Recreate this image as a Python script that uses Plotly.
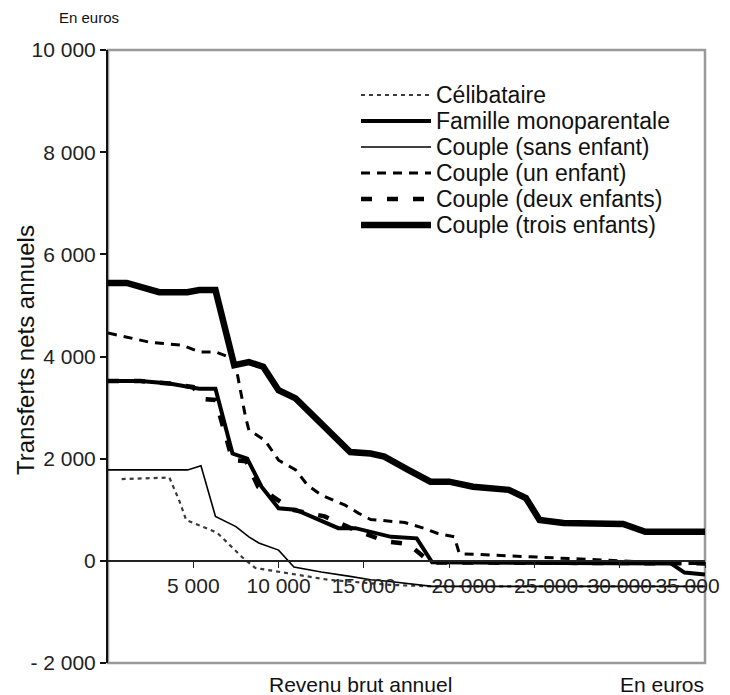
import plotly.graph_objects as go

# ---------------- data (euros) ----------------
celib_x = [800, 3600, 4200, 4580, 6400, 7870, 8640, 9800, 12900, 16500, 19000, 35000]
celib_y = [1600, 1630, 1160, 800, 550, 70, -140, -200, -370, -470, -500, -500]

famille_x = [0, 1900, 3600, 5350, 6300, 7300, 8160, 9000, 10000, 11000, 13500, 14500,
             16600, 18100, 19000, 33000, 33800, 35000]
famille_y = [3520, 3520, 3470, 3370, 3370, 2100, 2000, 1450, 1030, 1000, 640, 640,
             470, 440, -30, -50, -230, -270]

sans_x = [0, 4670, 5450, 6300, 7500, 8260, 8840, 10000, 10900, 12500, 14100, 15400,
          16400, 19000, 35000]
sans_y = [1780, 1780, 1860, 870, 670, 470, 350, 210, -120, -220, -300, -370,
          -400, -500, -500]

un_x = [0, 2440, 4380, 5350, 6300, 7100, 7500, 8060, 8260, 9200, 10000, 11000, 11700,
        12500, 13900, 14700, 15400, 17400, 18500, 19300, 20300, 20600, 24700, 28600,
        33400, 35000]
un_y = [4460, 4280, 4220, 4090, 4090, 3990, 3800, 2820, 2560, 2360, 1970, 1780, 1480,
        1290, 1090, 930, 810, 750, 640, 540, 470, 140, 80, 20, -50, -50]

deux_x = [0, 1900, 3600, 5000, 5500, 6300, 7300, 8100, 8800, 9700, 10800, 11800, 12700,
          14500, 15400, 16300, 17600, 18900, 35000]
deux_y = [3520, 3520, 3470, 3400, 3170, 3150, 1970, 1950, 1450, 1250, 1000, 930, 870,
          600, 500, 380, 330, -30, -50]

trois_x = [0, 1100, 3000, 4650, 5350, 6300, 7400, 8260, 9100, 10000, 11000, 14200, 15400,
           16200, 17600, 18900, 20000, 21400, 23500, 24500, 25300, 26700, 30200, 31500, 35000]
trois_y = [5440, 5440, 5260, 5260, 5300, 5300, 3830, 3890, 3800, 3340, 3180, 2130, 2100,
           2040, 1780, 1550, 1550, 1450, 1390, 1230, 800, 740, 720, 570, 570]

series_names = ["Célibataire", "Famille monoparentale", "Couple (sans enfant)",
                "Couple (un enfant)", "Couple (deux enfants)", "Couple (trois enfants)"]

NB = "\u00a0"
x_tickvals = [5000, 10000, 15000, 20000, 25000, 30000, 35000]
x_ticktext = ["5 000", "10 000", "15 000", NB * 5 + "20 000", NB * 4 + "25 000",
              "30 000", "35 000" + NB * 6]
y_tickvals = [-2000, 0, 2000, 4000, 6000, 8000, 10000]
y_ticktext = ["- 2 000", "0", "2 000", "4 000", "6 000", "8 000", "10 000"]

# ---------------- styles ----------------
styles = [
    dict(color="#3a3a3a", width=2.2, dash="4px,4px"),
    dict(color="#000000", width=4, dash="solid"),
    dict(color="#000000", width=1.6, dash="solid"),
    dict(color="#000000", width=3, dash="9px,7px"),
    dict(color="#000000", width=4.5, dash="11px,15px"),
    dict(color="#000000", width=6.5, dash="solid"),
]

FONT = "Liberation Sans, Arial, sans-serif"
OFF = 8  # page body margin
W, H = 730 - OFF, 695 - OFF
ML, MT = 108 - OFF, 50 - OFF
MR = W - (705 - OFF)
MB = H - (663 - OFF)
PW, PH = W - ML - MR, H - MT - MB


def px_x(px):
    return (px - OFF - ML) / PW


def px_y(py):
    return (H - MB - (py - OFF)) / PH


fig = go.Figure()
all_x = [celib_x, famille_x, sans_x, un_x, deux_x, trois_x]
all_y = [celib_y, famille_y, sans_y, un_y, deux_y, trois_y]
for name, xs, ys, st in zip(series_names, all_x, all_y, styles):
    fig.add_trace(go.Scatter(x=xs, y=ys, mode="lines", name=name, line=st,
                             showlegend=False, hoverinfo="skip"))

# frame (gray)
shapes = [dict(type="rect", xref="paper", yref="paper", x0=0, x1=1, y0=0, y1=1,
               line=dict(color="#999999", width=2.5), layer="below")]
annotations = []

# manual legend
leg_rows = [95, 121, 147, 173, 199, 225]
for name, st, ry in zip(series_names, styles, leg_rows):
    shapes.append(dict(type="line", xref="paper", yref="paper",
                       x0=px_x(361), x1=px_x(431), y0=px_y(ry), y1=px_y(ry),
                       line=st))
    annotations.append(dict(text=name, xref="paper", yref="paper", x=px_x(434),
                            y=px_y(ry), xanchor="left", yanchor="middle",
                            showarrow=False, font=dict(family=FONT, size=23, color="#111")))

annotations += [
    dict(text="En euros", xref="paper", yref="paper", x=px_x(89), y=px_y(18),
         xanchor="center", yanchor="middle", showarrow=False,
         font=dict(family=FONT, size=15, color="#111")),
    dict(text="Revenu brut annuel", xref="paper", yref="paper", x=px_x(360), y=px_y(684),
         xanchor="center", yanchor="middle", showarrow=False,
         font=dict(family=FONT, size=21, color="#111")),
    dict(text="En euros", xref="paper", yref="paper", x=px_x(662), y=px_y(684),
         xanchor="center", yanchor="middle", showarrow=False,
         font=dict(family=FONT, size=21, color="#111")),
    dict(text="Transferts nets annuels", xref="paper", yref="paper", x=px_x(25),
         y=px_y(350), xanchor="center", yanchor="middle", textangle=-90, showarrow=False,
         font=dict(family=FONT, size=24, color="#111")),
]

fig.update_layout(
    width=W, height=H,
    margin=dict(l=ML, r=MR, t=MT, b=MB, autoexpand=False),
    paper_bgcolor="white", plot_bgcolor="white",
    showlegend=False,
    shapes=shapes, annotations=annotations,
    xaxis=dict(range=[0, 35000], tickvals=x_tickvals, ticktext=x_ticktext,
               anchor="free", position=2000 / 12000, ticklabeloverflow="allow",
               automargin=False, tickangle=0,
               showline=True, linecolor="#222", linewidth=1.5,
               ticks="outside", ticklen=6, tickcolor="#222", tickwidth=1.2,
               showgrid=False, zeroline=False,
               tickfont=dict(family=FONT, size=21, color="#222")),
    yaxis=dict(range=[-2000, 10000], tickvals=y_tickvals, ticktext=y_ticktext,
               automargin=False,
               showline=True, linecolor="#111", linewidth=2,
               ticks="outside", ticklen=6, tickcolor="#111", tickwidth=1.5,
               showgrid=False, zeroline=False,
               tickfont=dict(family=FONT, size=21, color="#222")),
)

fig.write_html("out.html")
